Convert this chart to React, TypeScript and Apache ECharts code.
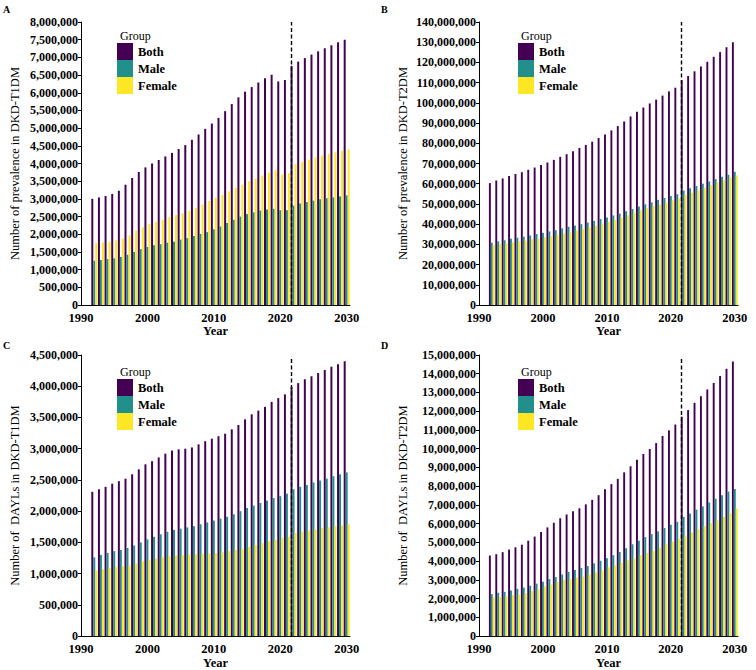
import React, { useEffect, useRef } from "react";
import * as echarts from "echarts";

const years = [1992, 1993, 1994, 1995, 1996, 1997, 1998, 1999, 2000, 2001, 2002, 2003, 2004, 2005, 2006, 2007, 2008, 2009, 2010, 2011, 2012, 2013, 2014, 2015, 2016, 2017, 2018, 2019, 2020, 2021, 2022, 2023, 2024, 2025, 2026, 2027, 2028, 2029, 2030];
const groups = ["Both", "Male", "Female"];
const groupColors = ["#440154", "#21908C", "#FDE725"];
const panelLetters = ["A", "B", "C", "D"];
const yTitles = ["Number of prevalence in DKD-T1DM", "Number of prevalence in DKD-T2DM", "Number of  DAYLs in DKD-T1DM", "Number of  DAYLs in DKD-T2DM"];
const yMax = [8000000, 140000000, 4500000, 15000000];
const yStep = [500000, 10000000, 500000, 1000000];

// values in millions
const t1PrevBoth = [3.00, 3.04, 3.08, 3.14, 3.23, 3.40, 3.59, 3.76, 3.89, 4.00, 4.10, 4.20, 4.30, 4.41, 4.52, 4.67, 4.82, 4.98, 5.13, 5.29, 5.48, 5.68, 5.87, 6.03, 6.16, 6.29, 6.41, 6.51, 6.32, 6.36, 6.76, 6.88, 6.98, 7.08, 7.17, 7.26, 7.34, 7.43, 7.50];
const t1PrevMale = [1.25, 1.27, 1.30, 1.32, 1.36, 1.42, 1.50, 1.58, 1.64, 1.69, 1.72, 1.76, 1.79, 1.85, 1.89, 1.95, 2.01, 2.06, 2.14, 2.22, 2.32, 2.41, 2.50, 2.57, 2.62, 2.67, 2.70, 2.72, 2.68, 2.68, 2.81, 2.87, 2.91, 2.95, 2.99, 3.02, 3.04, 3.07, 3.10];
const t1PrevFemale = [1.75, 1.77, 1.79, 1.83, 1.88, 1.97, 2.10, 2.20, 2.29, 2.35, 2.41, 2.49, 2.54, 2.59, 2.66, 2.74, 2.84, 2.94, 3.03, 3.11, 3.21, 3.31, 3.40, 3.50, 3.57, 3.66, 3.74, 3.81, 3.69, 3.72, 3.98, 4.04, 4.11, 4.17, 4.22, 4.27, 4.32, 4.36, 4.40];

const t2PrevBoth = [60.3, 61.6, 62.6, 63.8, 64.8, 65.7, 66.9, 68.0, 69.2, 70.5, 71.8, 73.3, 74.6, 76.1, 77.7, 79.2, 80.8, 82.6, 84.4, 86.4, 88.5, 90.8, 93.3, 95.6, 97.7, 99.7, 101.6, 103.6, 105.7, 107.5, 111.1, 113.3, 115.6, 118.0, 120.3, 122.8, 125.1, 127.5, 130.0];
const t2PrevMale = [30.8, 31.5, 32.0, 32.8, 33.3, 33.8, 34.4, 35.1, 35.7, 36.4, 37.0, 37.9, 38.7, 39.3, 40.0, 40.8, 41.6, 42.5, 43.3, 44.3, 45.2, 46.4, 47.5, 48.7, 49.8, 50.8, 52.0, 53.0, 53.9, 54.8, 56.6, 57.7, 58.9, 60.0, 61.1, 62.3, 63.4, 64.4, 65.9];
const t2PrevFemale = [29.5, 30.1, 30.6, 31.0, 31.5, 31.9, 32.5, 32.9, 33.5, 34.1, 34.8, 35.4, 35.9, 36.8, 37.7, 38.4, 39.2, 40.1, 41.1, 42.1, 43.3, 44.4, 45.8, 46.9, 47.9, 48.9, 49.6, 50.6, 51.8, 52.7, 54.5, 55.6, 56.7, 58.0, 59.2, 60.5, 61.7, 63.1, 64.1];

const t1DalyBoth = [2.31, 2.35, 2.39, 2.44, 2.48, 2.52, 2.59, 2.67, 2.75, 2.80, 2.86, 2.92, 2.97, 2.99, 3.00, 3.02, 3.07, 3.12, 3.16, 3.20, 3.24, 3.31, 3.38, 3.47, 3.55, 3.61, 3.67, 3.75, 3.81, 3.87, 3.99, 4.05, 4.11, 4.16, 4.21, 4.26, 4.31, 4.35, 4.40];
const t1DalyMale = [1.26, 1.30, 1.33, 1.36, 1.38, 1.41, 1.45, 1.50, 1.55, 1.59, 1.63, 1.67, 1.70, 1.72, 1.74, 1.76, 1.79, 1.82, 1.85, 1.88, 1.91, 1.95, 2.00, 2.05, 2.09, 2.13, 2.17, 2.21, 2.24, 2.28, 2.35, 2.39, 2.42, 2.46, 2.49, 2.52, 2.56, 2.59, 2.62];
const t1DalyFemale = [1.05, 1.07, 1.09, 1.10, 1.12, 1.13, 1.16, 1.20, 1.22, 1.24, 1.26, 1.28, 1.29, 1.30, 1.31, 1.31, 1.32, 1.32, 1.33, 1.35, 1.36, 1.38, 1.40, 1.43, 1.46, 1.49, 1.52, 1.54, 1.57, 1.59, 1.65, 1.67, 1.69, 1.71, 1.73, 1.74, 1.76, 1.77, 1.79];

const t2DalyBoth = [4.30, 4.37, 4.48, 4.62, 4.74, 4.88, 5.09, 5.31, 5.56, 5.80, 6.05, 6.29, 6.49, 6.66, 6.82, 7.03, 7.27, 7.52, 7.83, 8.11, 8.39, 8.74, 9.06, 9.41, 9.72, 9.98, 10.30, 10.68, 10.98, 11.29, 11.71, 12.06, 12.45, 12.80, 13.16, 13.51, 13.88, 14.27, 14.65];
const t2DalyMale = [2.24, 2.31, 2.36, 2.43, 2.52, 2.59, 2.69, 2.80, 2.90, 3.04, 3.15, 3.29, 3.43, 3.53, 3.64, 3.74, 3.88, 4.02, 4.16, 4.32, 4.49, 4.69, 4.90, 5.09, 5.28, 5.44, 5.59, 5.77, 5.94, 6.10, 6.36, 6.54, 6.75, 6.92, 7.13, 7.33, 7.52, 7.71, 7.85];
const t2DalyFemale = [2.06, 2.08, 2.12, 2.19, 2.22, 2.29, 2.40, 2.51, 2.66, 2.76, 2.90, 3.00, 3.06, 3.13, 3.18, 3.29, 3.39, 3.50, 3.67, 3.79, 3.90, 4.05, 4.16, 4.32, 4.44, 4.54, 4.71, 4.91, 5.04, 5.19, 5.35, 5.52, 5.70, 5.88, 6.03, 6.18, 6.36, 6.56, 6.80];

const panels = [
  [t1PrevBoth, t1PrevMale, t1PrevFemale],
  [t2PrevBoth, t2PrevMale, t2PrevFemale],
  [t1DalyBoth, t1DalyMale, t1DalyFemale],
  [t2DalyBoth, t2DalyMale, t2DalyFemale],
];

const FONT = "Liberation Serif";

// layout
const grids = [
  { left: 81, top: 22, width: 269, height: 283 },
  { left: 479, top: 22, width: 259, height: 283 },
  { left: 81, top: 355, width: 269, height: 285 },
  { left: 479, top: 355, width: 259, height: 285 },
];
const nameGaps = [60, 70, 60, 70];
const legendPos = [
  { left: 117, top: 43 },
  { left: 518, top: 43 },
  { left: 117, top: 379 },
  { left: 518, top: 379 },
];
const letterPos = [
  { x: 3, y: 4 },
  { x: 381, y: 4 },
  { x: 3, y: 340 },
  { x: 381, y: 340 },
];
const dashTop = [8000000, 140000000, 4450000, 14840000];

export default function App() {
  const ref = useRef<HTMLDivElement>(null);
  useEffect(() => {
    if (!ref.current) return;
    const chart = echarts.init(ref.current, undefined, { renderer: "svg" });
    const xAxis: any[] = [];
    const yAxis: any[] = [];
    const series: any[] = [];
    const legend: any[] = [];
    const graphic: any[] = [];
    panels.forEach((panel, p) => {
      xAxis.push({
        type: "value",
        gridIndex: p,
        min: 1990,
        max: 2030.5,
        interval: 10,
        name: "Year",
        nameLocation: "middle",
        nameGap: 19,
        nameTextStyle: { fontFamily: FONT, fontWeight: "bold", fontSize: 12.5, color: "#000" },
        axisLine: { show: true, lineStyle: { color: "#000", width: 1 } },
        axisTick: { show: false },
        splitLine: { show: false },
        axisLabel: {
          fontFamily: FONT,
          fontWeight: "bold",
          fontSize: 12.5,
          color: "#000",
          margin: 6,
          showMaxLabel: false,
          formatter: (v: number) => (v % 10 === 0 ? String(v) : ""),
        },
      });
      yAxis.push({
        type: "value",
        gridIndex: p,
        min: 0,
        max: yMax[p],
        interval: yStep[p],
        name: yTitles[p],
        nameLocation: "middle",
        nameGap: nameGaps[p],
        nameTextStyle: { fontFamily: FONT, fontSize: 12.5, color: "#000" },
        axisLine: { show: true, lineStyle: { color: "#000", width: 1 } },
        axisTick: { show: true, length: 3, lineStyle: { color: "#000" } },
        splitLine: { show: false },
        axisLabel: {
          fontFamily: FONT,
          fontWeight: "bold",
          fontSize: 12,
          color: "#000",
          margin: 3,
          formatter: (v: number) => v.toLocaleString("en-US"),
        },
      });
      panel.forEach((vals, g) => {
        const s: any = {
          type: "bar",
          name: groups[g],
          xAxisIndex: p,
          yAxisIndex: p,
          barWidth: "30%",
          barGap: "0%",
          itemStyle: { color: groupColors[g] },
          data: years.map((yr, i) => [yr, vals[i] * 1e6]),
        };
        if (g === 0) {
          s.markLine = {
            silent: true,
            symbol: ["none", "none"],
            label: { show: false },
            lineStyle: { color: "#000", type: [4, 2.5], width: 1.4 },
            data: [[{ coord: [2022, 0] }, { coord: [2022, dashTop[p]] }]],
          };
        }
        series.push(s);
      });
      legend.push({
        data: groups,
        orient: "vertical",
        left: legendPos[p].left,
        top: legendPos[p].top,
        itemWidth: 16,
        itemHeight: 17,
        itemGap: 0,
        padding: 0,
        icon: "rect",
        selectedMode: false,
        textStyle: { fontFamily: FONT, fontWeight: "bold", fontSize: 12.5, color: "#000" },
      });
      graphic.push({
        type: "text",
        left: legendPos[p].left + 3,
        top: legendPos[p].top - 13,
        style: { text: "Group", fontFamily: FONT, fontSize: 12, fill: "#000" },
      });
      graphic.push({
        type: "text",
        left: letterPos[p].x,
        top: letterPos[p].y,
        style: { text: panelLetters[p], fontFamily: FONT, fontSize: 10, fontWeight: "bold", fill: "#000" },
      });
    });
    chart.setOption({
      animation: false,
      backgroundColor: "#fff",
      grid: grids,
      xAxis,
      yAxis,
      series,
      legend,
      graphic,
    });
    return () => chart.dispose();
  }, []);
  return (
    <div
      ref={ref}
      style={{ position: "fixed", left: 0, top: 0, width: 756, height: 670, background: "#fff" }}
    />
  );
}
